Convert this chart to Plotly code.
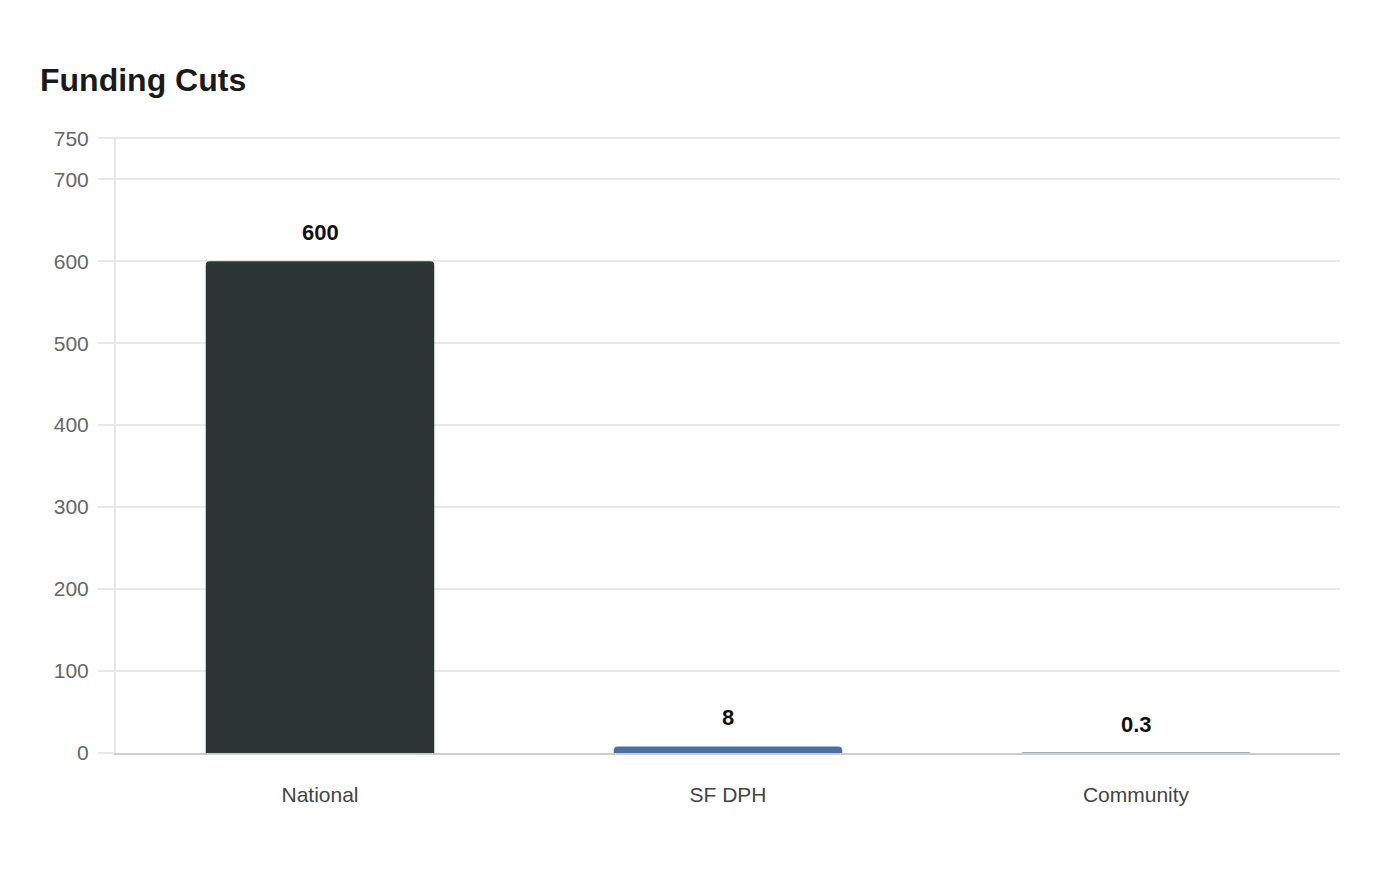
import plotly.graph_objects as go

categories = ['National', 'SF DPH', 'Community']
values = [600, 8, 0.3]
labels = ['600', '8', '0.3']
colors = ['#2d3436', '#4a6fa5', '#a4b0be']

y_ticks = [0, 100, 200, 300, 400, 500, 600, 700, 750]

FONT = 'Liberation Sans, Arial, sans-serif'


def main() -> None:
    fig = go.Figure()

    fig.add_trace(go.Bar(
        x=categories, y=values,
        marker=dict(color=colors, cornerradius=4, line=dict(width=0)),
        width=0.56, hoverinfo='x+y'))

    # 値ラベル (bar の上)
    for cat, val, lab in zip(categories, values, labels):
        fig.add_annotation(
            x=cat, y=val, text='<b>%s</b>' % lab, showarrow=False,
            yanchor='bottom', yshift=14,
            font=dict(family=FONT, size=22, color='#111111'))

    fig.update_layout(
        width=1400, height=880,
        paper_bgcolor='white', plot_bgcolor='white',
        margin=dict(l=108, r=68, t=129, b=135),
        showlegend=False,
        title=dict(
            text='<b>Funding Cuts</b>', x=32 / 1400, xanchor='left',
            y=1 - 72 / 880, yanchor='middle',
            font=dict(family=FONT, size=32, color='#1a1a1a')),
        font=dict(family=FONT),
    )
    fig.update_xaxes(
        showgrid=False, showline=True, linecolor='#cccccc', linewidth=2,
        ticks='', tickfont=dict(size=21, color='#444444'),
        ticklabelstandoff=22)
    fig.update_yaxes(
        range=[0, 751.5], tickvals=y_ticks, showgrid=True,
        gridcolor='#e8e8e8', gridwidth=1.5, zeroline=False,
        showline=True, linecolor='#e8e8e8', linewidth=2,
        ticks='outside', ticklen=16, tickcolor='#e8e8e8', tickwidth=1.5,
        ticklabelstandoff=5,
        tickfont=dict(size=21, color='#666666'))

    fig.write_html('out.html')


if __name__ == '__main__':
    main()
